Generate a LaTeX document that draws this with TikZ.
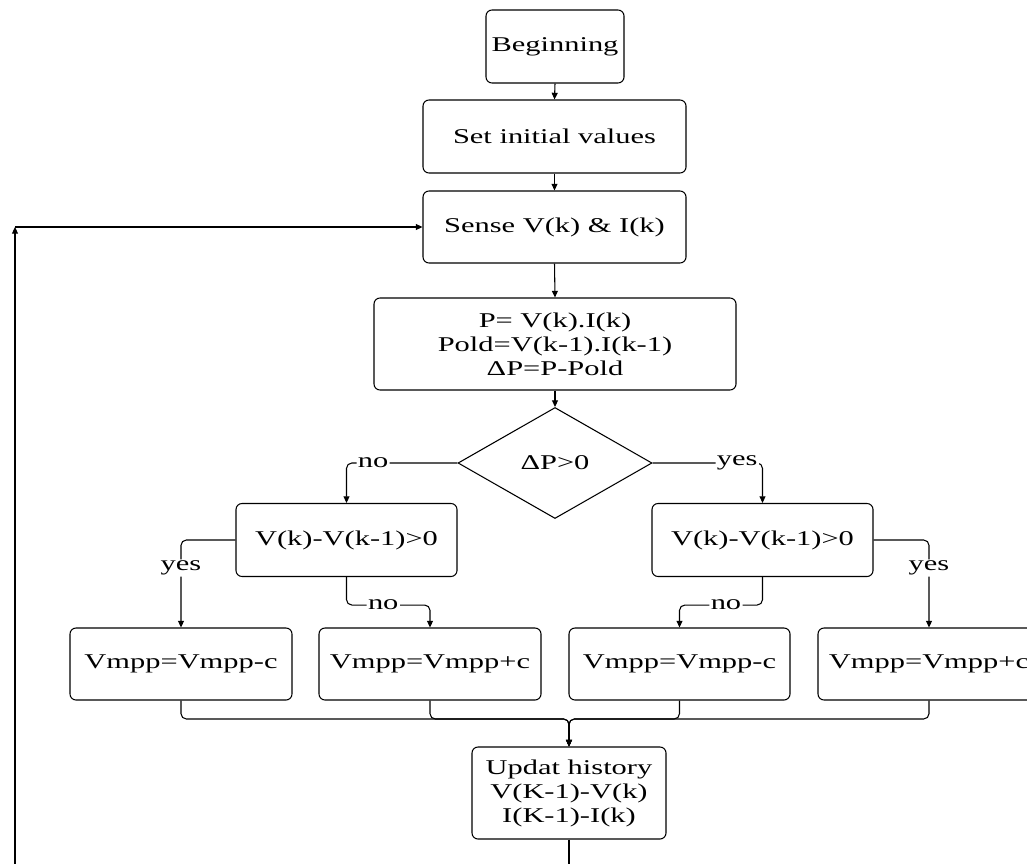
\documentclass[tikz,border=0pt]{standalone}
\usepackage{fontspec}
\setmainfont{Liberation Serif}[FakeStretch=1.45]
\usetikzlibrary{arrows.meta,shapes.geometric}
\newcommand\pxu{0.75pt}
\tikzset{
  box/.style={draw,rounded corners=4.5pt,line width=0.8pt,inner sep=0pt,align=center,
    font=\fontsize{15.75pt}{18pt}\selectfont},
  dia/.style={draw,diamond,line width=0.8pt,inner sep=0pt,
    font=\fontsize{15.75pt}{18pt}\selectfont},
  conn/.style={line width=0.8pt,rounded corners=4pt},
  arr/.style={conn,-{Triangle[length=5pt,width=4.5pt]}},
  lbl/.style={fill=white,inner sep=1pt,font=\fontsize{15.75pt}{18pt}\selectfont}
}
\begin{document}
\begin{tikzpicture}[x=0.75pt,y=-0.75pt]
\useasboundingbox (0,0) rectangle (1027,863);
\clip (0,0) rectangle (1027,863);
\fill[white] (0,0) rectangle (1027,863);

\node[box,minimum width=138*\pxu,minimum height=73*\pxu] (begin) at (555,46.5) {Beginning};
\node[box,minimum width=263*\pxu,minimum height=73*\pxu] (init) at (554.5,136.5) {Set initial values};
\node[box,minimum width=263*\pxu,minimum height=72*\pxu] (sense) at (554.5,227) {Sense V(k) \& I(k)};
\node[box,minimum width=362*\pxu,minimum height=92*\pxu] (calc) at (555,344) {P= V(k).I(k)\\Pold=V(k-1).I(k-1)\\ΔP=P-Pold};
\node[dia,minimum width=194*\pxu,minimum height=111*\pxu] (dec) at (555,463) {ΔP>0};
\node[box,minimum width=221*\pxu,minimum height=73*\pxu] (lv) at (346.5,540) {V(k)-V(k-1)>0};
\node[box,minimum width=221*\pxu,minimum height=73*\pxu] (rv) at (762.5,540) {V(k)-V(k-1)>0};
\node[box,minimum width=222*\pxu,minimum height=72*\pxu] (b1) at (181,664) {Vmpp=Vmpp-c};
\node[box,minimum width=222*\pxu,minimum height=72*\pxu] (b2) at (430,664) {Vmpp=Vmpp+c};
\node[box,minimum width=221*\pxu,minimum height=72*\pxu] (b3) at (679.5,664) {Vmpp=Vmpp-c};
\node[box,minimum width=222*\pxu,minimum height=72*\pxu] (b4) at (929,664) {Vmpp=Vmpp+c};
\node[box,minimum width=194*\pxu,minimum height=92*\pxu] (upd) at (569,793) {Updat history\\V(K-1)-V(k)\\I(K-1)-I(k)};

\coordinate (m) at (569,719);
\coordinate (loopb) at (15,900);
\coordinate (loopc) at (15,227);

\draw[arr] (begin.south) -- (init.north);
\draw[arr] (init.south) -- (sense.north);
\draw[arr] (sense.south) -- (calc.north);
\draw[arr] (calc.south) -- (dec.north);

\draw[arr] (dec.west) -| node[lbl,pos=0.38] {no} (lv.north);
\draw[arr] (dec.east) -| node[lbl,pos=0.385] {yes} (rv.north);

\draw[arr] (lv.west) -| node[lbl,pos=0.66] {yes} (b1.north);
\draw[arr] (lv.south) -- ++(0,28) -| node[lbl,pos=0.22] {no} (b2.north);
\draw[arr] (rv.south) -- ++(0,28) -| node[lbl,pos=0.22] {no} (b3.north);
\draw[arr] (rv.east) -| node[lbl,pos=0.66] {yes} (b4.north);

\draw[arr] (b1.south) |- (m) -- (upd.north);
\draw[arr] (b2.south) |- (m) -- (upd.north);
\draw[arr] (b3.south) |- (m) -- (upd.north);
\draw[arr] (b4.south) |- (m) -- (upd.north);

\draw[arr,rounded corners=0pt] (upd.south) |- (loopb) -- (loopc);
\draw[arr] (loopc) -- (sense.west);
\end{tikzpicture}
\end{document}
